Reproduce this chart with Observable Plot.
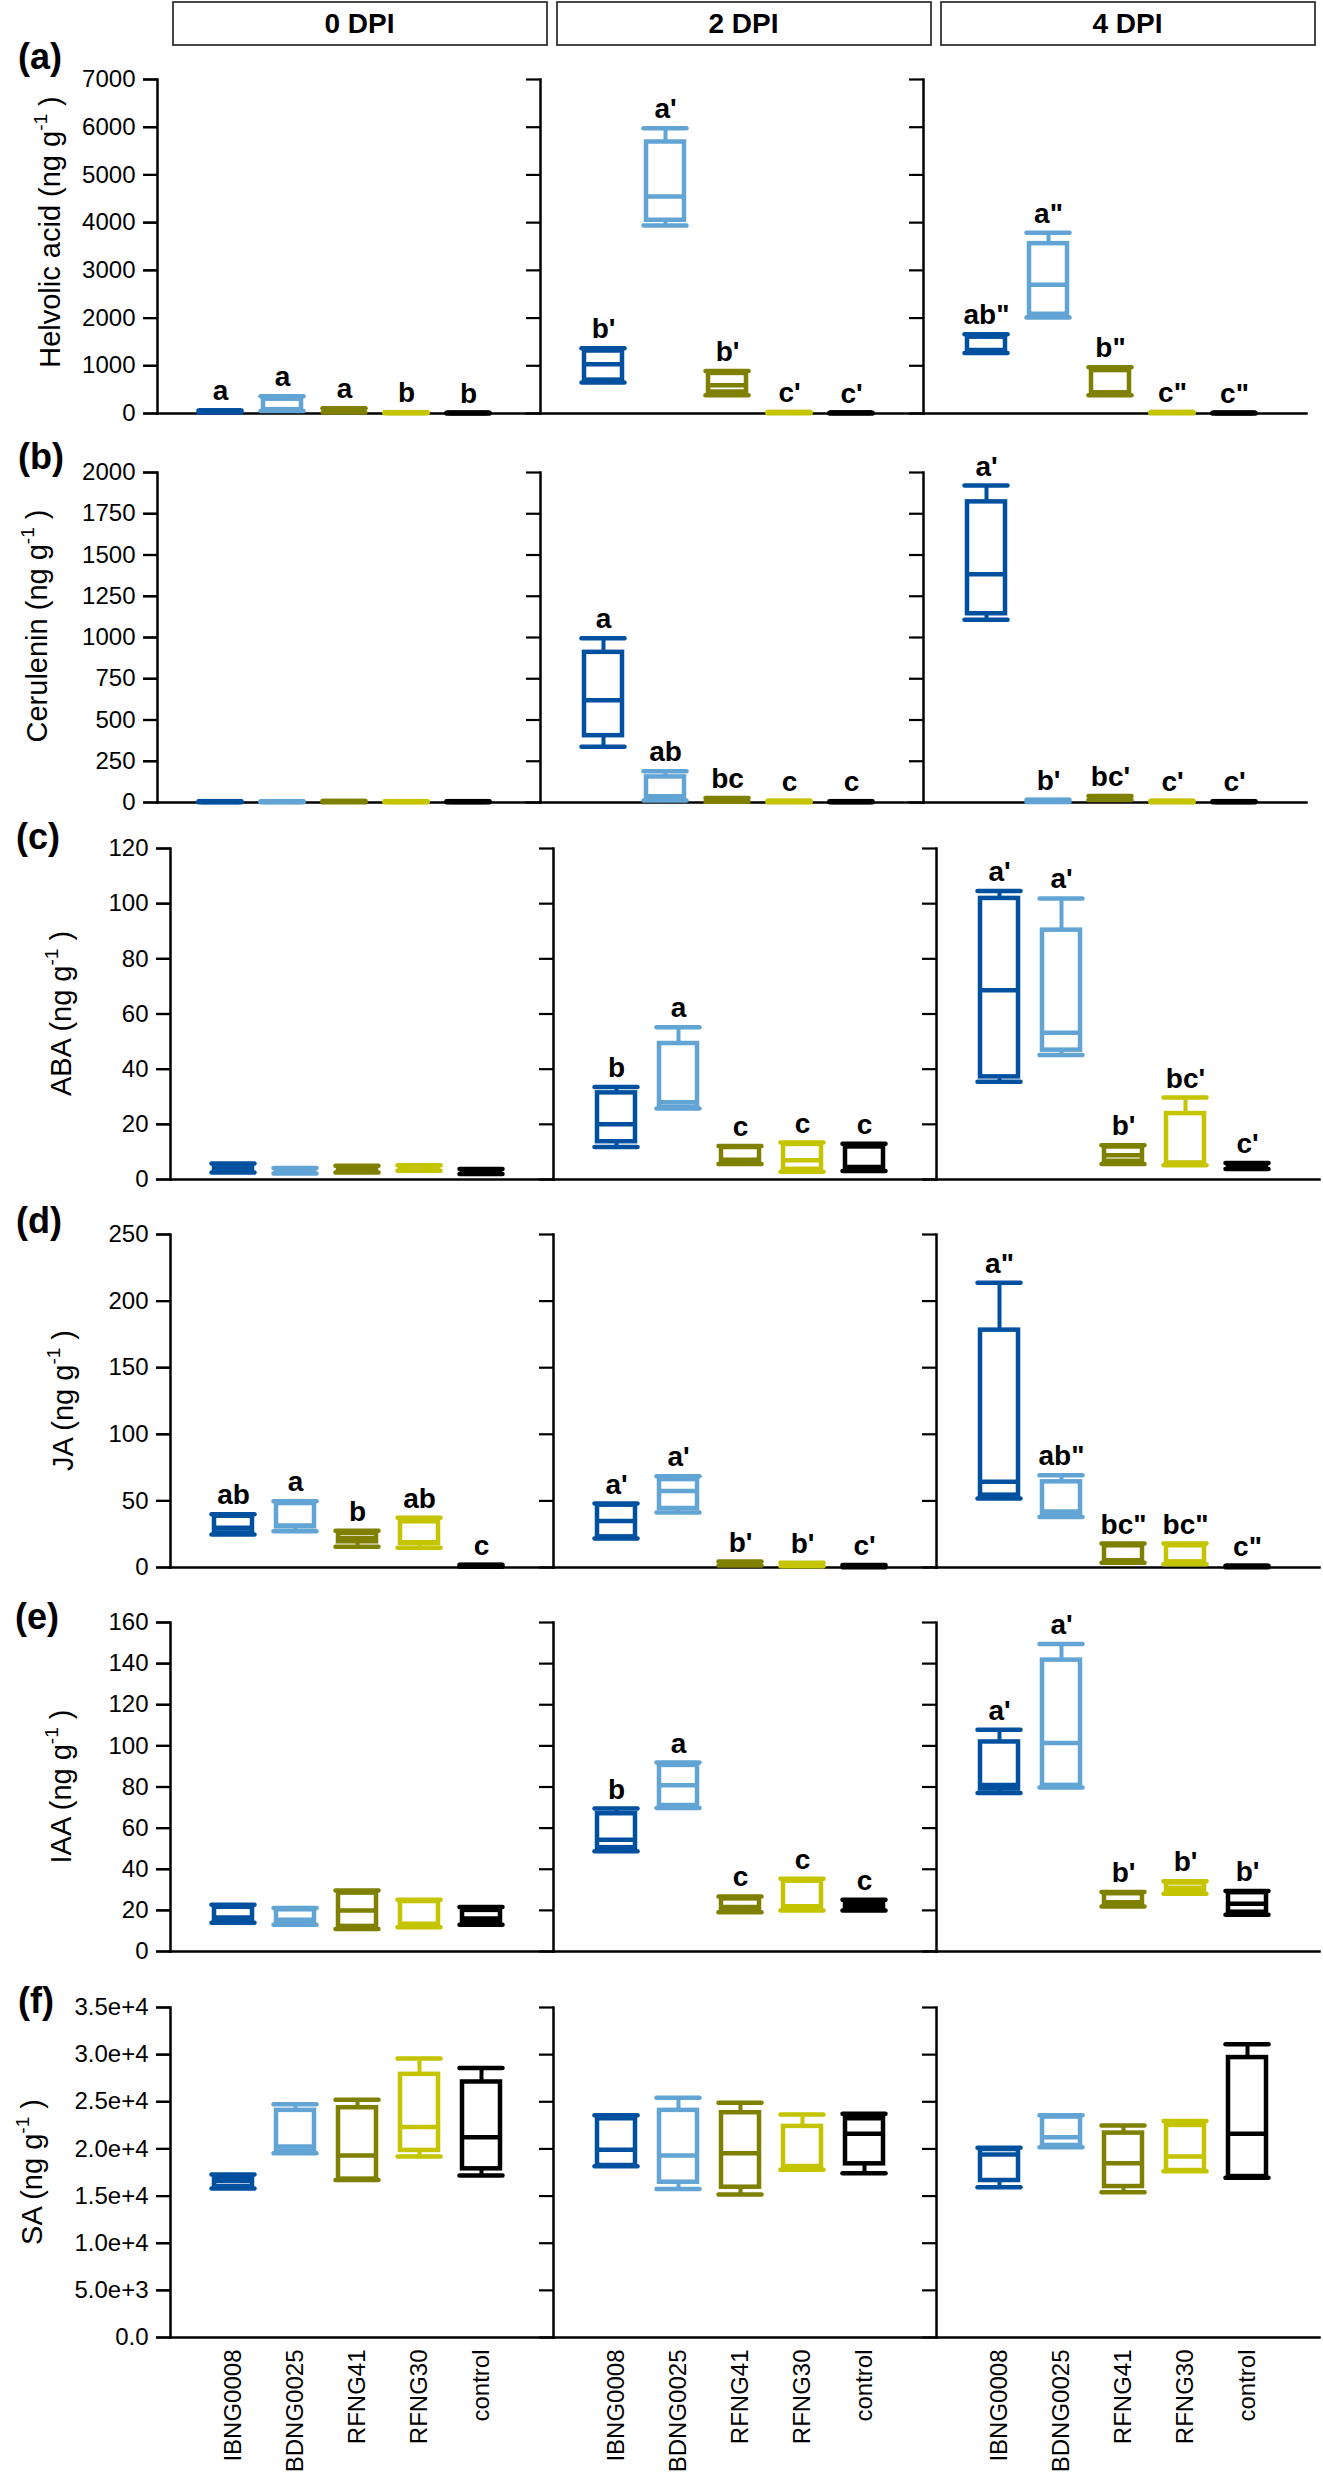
<!DOCTYPE html>
<html><head><meta charset="utf-8">
<script src="https://cdn.jsdelivr.net/npm/d3@7"></script>
<script src="https://cdn.jsdelivr.net/npm/@observablehq/plot@0.6"></script>
<style>
body{margin:0;background:#fff;}
#fig{position:relative;width:1323px;height:2481px;background:#fff;overflow:hidden;}
#fig svg{position:absolute;left:0;overflow:visible;max-width:none;}
.tag{position:absolute;font-family:'Liberation Sans',Arial,Helvetica,sans-serif;font-weight:bold;font-size:36px;line-height:36px;color:#000;white-space:nowrap;z-index:5;}
</style></head><body><div id="fig"></div>
<script>
// ---------- data ----------
const groups = ["IBNG0008", "BDNG0025", "RFNG41", "RFNG30", "control"];
const dpis = ["0 DPI", "2 DPI", "4 DPI"];
const groupColors = ["#0050a0", "#62a4d4", "#7f7f00", "#c4c400", "#000000"];

// stats per DPI, per group: [min, q1, median, q3, max]
const helvolicStats = [
  [[20,25,40,55,65],[50,80,90,300,360],[20,40,60,90,110],[5,8,12,18,25],[2,4,6,10,15]],
  [[650,700,1030,1310,1370],[3940,4050,4550,5690,5980],[380,450,590,840,890],[5,10,15,20,30],[2,5,8,12,18]],
  [[1270,1310,1330,1600,1660],[2010,2080,2700,3560,3790],[380,430,440,900,970],[5,10,15,20,30],[2,4,6,10,15]]
];
const helvolicLetters = [["a","a","a","b","b"],["b'","a'","b'","c'","c'"],['ab"','a"','b"','c"','c"']];

const ceruleninStats = [
  [[1,2,3,5,8],[1,2,3,5,7],[1,2,4,6,9],[1,2,3,5,8],[1,2,3,5,7]],
  [[338,405,620,910,996],[12,30,38,155,190],[5,10,15,20,27],[2,3,5,7,10],[1,2,3,5,7]],
  [[1107,1144,1383,1822,1921],[3,5,8,12,16],[15,20,25,35,40],[2,3,5,7,10],[1,2,3,5,7]]
];
const ceruleninLetters = [["","","","",""],["a","ab","bc","c","c"],["a'","b'","bc'","c'","c'"]];

const abaStats = [
  [[2.5,3,4,5,5.8],[2.2,2.6,3,3.6,4.2],[2.5,3,3.8,4.5,5],[3.2,3.6,4,4.6,5.2],[2,2.4,2.8,3.3,3.8]],
  [[11.8,13.7,20,31.4,33.5],[25.7,26.2,28,49.3,55.2],[5.6,6.5,7.2,11.6,12.1],[2.8,3.7,7,12.7,13.4],[3.1,4,4.5,11.8,13]],
  [[35.4,37.2,68.6,101.9,104.6],[45.1,46.9,53.2,90.4,101.9],[5.6,6.6,8.8,11.8,12.4],[5.2,5.8,6.2,23.9,29.7],[3.8,4.2,4.8,5.4,6]]
];
const abaLetters = [["","","","",""],["b","a","c","c","c"],["a'","a'","b'","bc'","c'"]];

const jaStats = [
  [[24.8,26,29.8,38.5,40],[27.3,30.5,31.5,48,49.8],[15.5,19.3,22,25.5,27.5],[14.8,18,19,34.3,37.3],[0.5,0.8,1,1.5,2]],
  [[21.8,23,35,46.8,48],[41.3,44.3,57.5,66,68.5],[1.5,2,2.8,3.5,4.5],[1,1.5,2,2.8,3.5],[0.2,0.5,0.8,1.2,1.8]],
  [[51.8,54.3,64.3,178.2,213.7],[38,40.5,42,64.3,69.3],[3.5,5,5.5,16.3,18],[2.5,4,4.5,16.3,18],[0.2,0.4,0.6,0.9,1.4]]
];
const jaLetters = [["ab","a","b","ab","c"],["a'","a'","b'","b'","c'"],['a"','ab"','bc"','bc"','c"']];

const iaaStats = [
  [[14,15,16.5,21.5,22.7],[13,13.8,15.4,20.3,21.1],[11,12.2,20,28.4,29.7],[11.8,13,13.5,24.3,25.2],[13,14.6,16,20,21.6]],
  [[48.7,50.5,54.4,67,69.5],[69.8,71,80.8,90.5,91.9],[19.1,20.3,21.6,25.6,26.8],[20,20.8,22,34.2,35.4],[20,21,22.5,24,25.2]],
  [[77.1,79,81,101.9,107.9],[79.7,80.8,101.4,141.7,149.5],[21.9,23.2,24,28.1,28.9],[28.1,29.4,31,33.3,34.2],[17.9,19.1,23.2,28.6,29.4]]
];
const iaaLetters = [["","","","",""],["b","a","c","c","c"],["a'","a'","b'","b'","b'"]];

const saStats = [
  [[15800,16000,16600,17000,17300],[19550,19770,20260,24090,24730],[16700,16800,19310,24370,25220],[19200,19840,22320,27910,29580],[17180,17890,21250,27100,28590]],
  [[18150,18240,19910,23200,23560],[15760,16470,19310,24090,25430],[15160,15940,19550,23840,24900],[17800,17890,18200,22390,23660],[17430,18420,21600,23200,23730]],
  [[15940,16650,19410,19940,20120],[20190,20370,21250,23380,23560],[15410,16010,18490,21680,22490],[17640,17710,19200,22490,22950],[16930,17070,21610,29690,31100]]
];
const saLetters = null;

const helvolicTicks = [0,1000,2000,3000,4000,5000,6000,7000];
const ceruleninTicks = [0,250,500,750,1000,1250,1500,1750,2000];
const abaTicks = [0,20,40,60,80,100,120];
const jaTicks = [0,50,100,150,200,250];
const iaaTicks = [0,20,40,60,80,100,120,140,160];
const saTicks = [0,5000,10000,15000,20000,25000,30000,35000];

const titles = ["Helvolic acid", "Cerulenin", "ABA", "JA", "IAA", "SA"];
const panelTags = ["(a)", "(b)", "(c)", "(d)", "(e)", "(f)"];

// ---------- layout ----------
const FONT = "'Liberation Sans', Arial, Helvetica, sans-serif";
const layout = [
  {T: 79,   Z: 413,  left: 156, right: 1307, titleX: 60, titleDy: -14, tagX: 18, tagY: 70},
  {T: 472,  Z: 802,  left: 156, right: 1307, titleX: 47, titleDy: -11, tagX: 18, tagY: 470},
  {T: 848,  Z: 1179, left: 169, right: 1320, titleX: 71, titleDy: 0,   tagX: 16, tagY: 850},
  {T: 1234, Z: 1567, left: 169, right: 1320, titleX: 73, titleDy: 0,   tagX: 16, tagY: 1234},
  {T: 1622, Z: 1951, left: 169, right: 1320, titleX: 71, titleDy: 0,   tagX: 15, tagY: 1630},
  {T: 2007, Z: 2337, left: 169, right: 1320, titleX: 42, titleDy: 0,   tagX: 18, tagY: 2014}
];

const fig = document.getElementById("fig");

// header boxes
const header = Plot.plot({
  width: 1323, height: 48,
  marginLeft: 166, marginRight: 4, marginTop: 2, marginBottom: 3,
  style: {fontFamily: FONT, background: "transparent", color: "black"},
  fx: {domain: dpis, padding: 0, axis: null},
  marks: [
    Plot.rect(dpis, {fx: d => d, insetLeft: 6, insetRight: 4, fill: "white", stroke: "#333", strokeWidth: 1.8}),
    Plot.text(dpis, {fx: d => d, text: d => d, frameAnchor: "middle", fontSize: 28, fontWeight: "bold", fill: "black"})
  ]
});
header.style.top = "0px";
fig.appendChild(header);

function drawRow(idx, stats, letters, ticks, tickFormat) {
  const cfg = layout[idx];
  const isBottom = idx === 5;
  const data = [];
  dpis.forEach((dpi, i) => groups.forEach((g, j) => {
    const [min, q1, med, q3, max] = stats[i][j];
    data.push({dpi, group: g, min, q1, med, q3, max, letter: letters ? letters[i][j] : ""});
  }));
  const mt = 36;
  const mb = isBottom ? 2481 - cfg.Z : 10;
  const height = (cfg.Z - cfg.T) + mt + mb;
  const ymax = ticks[ticks.length - 1];
  const marks = [
    Plot.frame({anchor: "left", strokeWidth: 2.5, stroke: "black"}),
    Plot.frame({anchor: "bottom", strokeWidth: 2.5, stroke: "black"}),
    Plot.axisY({ticks, tickSize: 14, tickPadding: 8, tickFormat, fontSize: 24, strokeWidth: 2.2, label: null}),
    Plot.axisY({ticks, tickSize: 14, tickFormat: () => "", strokeWidth: 2.2, label: null, facetAnchor: null}),
    Plot.ruleX(data, {fx: "dpi", x: "group", y1: "min", y2: "max", stroke: "group", strokeWidth: 4}),
    Plot.barY(data, {fx: "dpi", x: "group", y1: "q1", y2: "q3", fill: "white", stroke: "group", strokeWidth: 4.5, insetLeft: 5, insetRight: 5}),
    Plot.tickY(data, {fx: "dpi", x: "group", y: "med", stroke: "group", strokeWidth: 4.5, insetLeft: 5, insetRight: 5}),
    Plot.tickY(data, {fx: "dpi", x: "group", y: "min", stroke: "group", strokeWidth: 4.5, strokeLinecap: "round", insetLeft: 2.5, insetRight: 2.5}),
    Plot.tickY(data, {fx: "dpi", x: "group", y: "max", stroke: "group", strokeWidth: 4.5, strokeLinecap: "round", insetLeft: 2.5, insetRight: 2.5}),
    Plot.text(data, {fx: "dpi", x: "group", y: "max", text: "letter", dy: -10, lineAnchor: "bottom", fontSize: 28, fontWeight: "bold", fill: "black"})
  ];
  if (isBottom) marks.push(Plot.axisX({tickRotate: -90, tickSize: 0, tickPadding: 12, fontSize: 24, label: null}));
  const xScale = {type: "band", domain: groups, paddingInner: 0.23, paddingOuter: 0.7, align: 0.45};
  if (!isBottom) xScale.axis = null;
  const svg = Plot.plot({
    width: 1323, height,
    marginLeft: cfg.left, marginRight: 1323 - cfg.right, marginTop: mt, marginBottom: mb,
    style: {fontFamily: FONT, background: "transparent", color: "black", overflow: "visible"},
    fx: {domain: dpis, padding: 0, axis: null},
    x: xScale,
    y: {domain: [0, ymax], axis: null},
    color: {domain: groups, range: groupColors},
    marks
  });
  const top = cfg.T - mt;
  svg.style.top = top + "px";
  fig.appendChild(svg);
  const s = d3.select(svg);
  // y title with superscript
  const cy = mt + (cfg.Z - cfg.T) / 2 + cfg.titleDy;
  const t = s.append("text")
    .attr("transform", `translate(${cfg.titleX},${cy}) rotate(-90)`)
    .attr("text-anchor", "middle")
    .attr("font-size", 29)
    .attr("font-family", FONT)
    .attr("fill", "black");
  t.append("tspan").text(titles[idx] + " (ng g");
  t.append("tspan").attr("dy", -13).attr("font-size", 19).text("-1");
  t.append("tspan").attr("dy", 13).text(" )");
  // panel tag (HTML, above everything)
  const tag = document.createElement("div");
  tag.className = "tag";
  tag.textContent = panelTags[idx];
  tag.style.left = cfg.tagX + "px";
  tag.style.top = (cfg.tagY - 31) + "px";
  fig.appendChild(tag);
}

const fmtPlain = d => String(d);
const fmtSA = d => d === 0 ? "0.0" : d3.format(".1e")(d);

drawRow(0, helvolicStats, helvolicLetters, helvolicTicks, fmtPlain);
drawRow(1, ceruleninStats, ceruleninLetters, ceruleninTicks, fmtPlain);
drawRow(2, abaStats, abaLetters, abaTicks, fmtPlain);
drawRow(3, jaStats, jaLetters, jaTicks, fmtPlain);
drawRow(4, iaaStats, iaaLetters, iaaTicks, fmtPlain);
drawRow(5, saStats, saLetters, saTicks, fmtSA);
</script>
</body></html>
